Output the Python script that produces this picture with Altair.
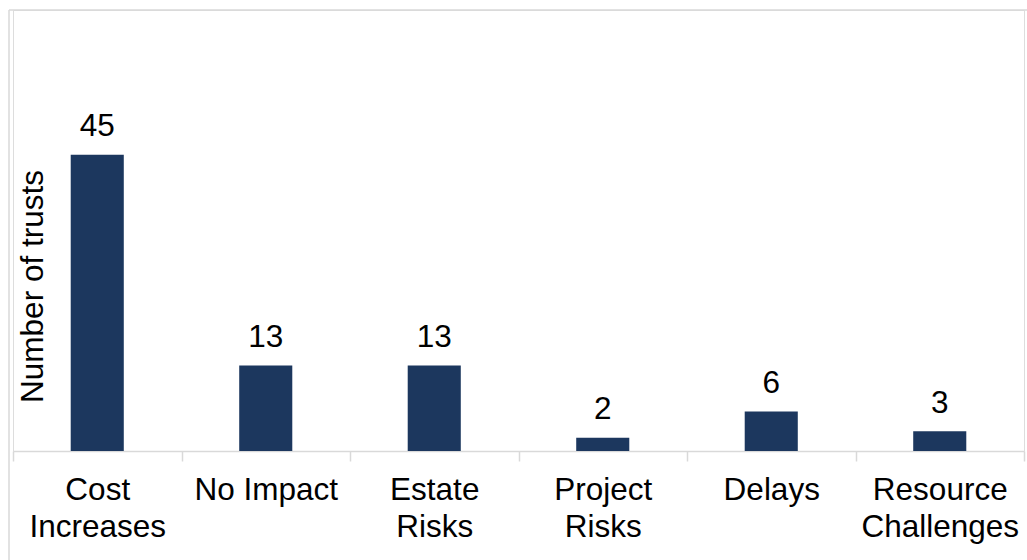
import altair as alt
import pandas as pd

categories = ["Cost|Increases", "No Impact", "Estate|Risks", "Project|Risks", "Delays", "Resource|Challenges"]
values = [45, 13, 13, 2, 6, 3]
y_max = 67
y_title = "Number of trusts"

df = pd.DataFrame({"category": categories, "value": values})
frame_df = pd.DataFrame({"a": [0]})

W, H = 1011, 441
FONT = "Liberation Sans"
BAR = "#1c375e"
GRAY = "#d9d9d9"

x = alt.X(
    "category:N", sort=None,
    scale=alt.Scale(paddingInner=0, paddingOuter=0),
    axis=alt.Axis(
        title=None, labelAngle=0, labelExpr="split(datum.label, '|')",
        labelFont=FONT, labelFontSize=31.5, labelLineHeight=37, labelColor="black",
        labelPadding=13, tickSize=10, tickBand="extent", tickColor=GRAY, tickWidth=1.5,
        domainColor=GRAY, domainWidth=1.5, grid=False,
    ),
)
y = alt.Y(
    "value:Q",
    scale=alt.Scale(domain=[0, y_max], nice=False),
    axis=alt.Axis(
        labels=False, ticks=False, domain=False, grid=False,
        title=y_title, titleFont=FONT, titleFontSize=31.5, titleFontWeight="normal",
        titleColor="black", titleX=29, titleY=276, titleBaseline="alphabetic",
        titleAngle=270,
    ),
)

bars = alt.Chart(df).mark_bar(color=BAR, width=alt.RelativeBandSize(0.315)).encode(x=x, y=y)
labels = alt.Chart(df).mark_text(
    font=FONT, fontSize=31.5, baseline="alphabetic", dy=-18.5, color="black"
).encode(x=x, y=y, text="value:Q")

left_line = alt.Chart(frame_df).mark_rule(color=GRAY, strokeWidth=1.5).encode(
    x=alt.value(-4), y=alt.value(0), y2=alt.value(600)
)
top_line = alt.Chart(frame_df).mark_rule(color=GRAY, strokeWidth=1.5).encode(
    x=alt.value(-4), x2=alt.value(1040), y=alt.value(0)
)

chart = alt.layer(left_line, top_line, bars, labels).properties(
    width=W, height=H,
    autosize=alt.AutoSizeParams(type="none"),
    padding={"left": 13, "top": 10, "right": 3, "bottom": 109},
).configure_view(stroke=None).configure(background="white")

chart.save("out.html", embed_options={"renderer": "svg", "actions": False})
